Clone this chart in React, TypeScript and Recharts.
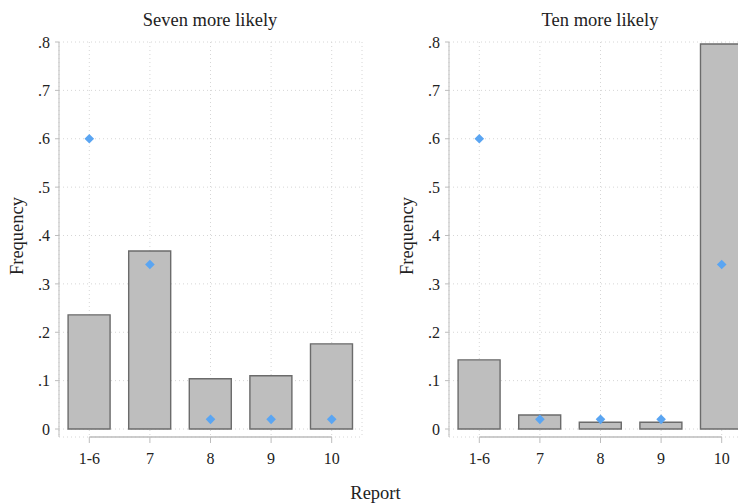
import React from 'react';
import { ComposedChart, Bar, Line, XAxis, YAxis, CartesianGrid, ReferenceLine } from 'recharts';

const categories = ['1-6', '7', '8', '9', '10'];
const sevenFrequency = [0.236, 0.368, 0.104, 0.11, 0.176];
const sevenPredicted = [0.6, 0.34, 0.02, 0.02, 0.02];
const tenFrequency = [0.143, 0.029, 0.014, 0.014, 0.796];
const tenPredicted = [0.6, 0.02, 0.02, 0.02, 0.34];
const yTicks = [0, 0.1, 0.2, 0.3, 0.4, 0.5, 0.6, 0.7, 0.8];
const xAxisLineY = -0.0165;

const FONT = 'Liberation Serif';
const TEXT = '#222222';
const AXIS = '#bdbdbd';

const fmtY = (v: number) => (v === 0 ? '0' : v.toFixed(1).replace(/^0/, ''));

const XTick = (props: any) => {
  const { x, y, payload } = props;
  return (
    <text x={x} y={y} dy="0.71em" textAnchor="middle" fontFamily={FONT} fontSize={16} fill={TEXT}>
      {payload.value}
    </text>
  );
};

const YTick = (props: any) => {
  const { x, y, payload } = props;
  return (
    <text x={x} y={y} dy="0.355em" textAnchor="end" fontFamily={FONT} fontSize={16} fill={TEXT}>
      {fmtY(payload.value)}
    </text>
  );
};

const Diamond = (props: any) => {
  const { cx, cy } = props;
  if (cx == null || cy == null) return null;
  const r = 4.8;
  return (
    <path
      key={`d-${cx}-${cy}`}
      d={`M${cx},${cy - r}L${cx + r},${cy}L${cx},${cy + r}L${cx - r},${cy}Z`}
      fill="#5aa5f2"
    />
  );
};

function Panel({ freq, pred }: { freq: number[]; pred: number[] }) {
  const data = categories.map((c, i) => ({ cat: c, freq: freq[i], pred: pred[i] }));
  return (
    <ComposedChart
      width={370}
      height={504}
      data={data}
      margin={{ top: 42, right: 8, left: 0, bottom: 0 }}
      barCategoryGap="15%"
    >
      <CartesianGrid stroke="#d6d6d6" strokeDasharray="1 3" />
      <XAxis
        dataKey="cat"
        interval={0}
        axisLine={false}
        tickLine={{ stroke: AXIS }}
        tickSize={6}
        tickMargin={10}
        height={67}
        tick={XTick}
      />
      <YAxis
        domain={[xAxisLineY, 0.8]}
        ticks={yTicks}
        width={59}
        axisLine={{ stroke: AXIS }}
        tickLine={{ stroke: AXIS }}
        tickSize={4}
        tickMargin={5}
        tick={YTick}
        allowDataOverflow
      />
      <ReferenceLine
        segment={[
          { x: categories[0], y: xAxisLineY },
          { x: categories[categories.length - 1], y: xAxisLineY },
        ]}
        stroke={AXIS}
        strokeWidth={1.5}
        ifOverflow="visible"
      />
      <Bar dataKey="freq" fill="#bebebe" stroke="#6b6b6b" strokeWidth={1.4} isAnimationActive={false} />
      <Line
        dataKey="pred"
        stroke="none"
        dot={Diamond}
        activeDot={false}
        isAnimationActive={false}
        legendType="none"
      />
    </ComposedChart>
  );
}

export default function App() {
  return (
    <div
      style={{
        position: 'absolute',
        left: 0,
        top: 0,
        width: 738,
        height: 504,
        overflow: 'hidden',
        background: '#ffffff',
      }}
    >
      <div style={{ position: 'absolute', left: 0, top: 0 }}>
        <Panel freq={sevenFrequency} pred={sevenPredicted} />
      </div>
      <div style={{ position: 'absolute', left: 390, top: 0 }}>
        <Panel freq={tenFrequency} pred={tenPredicted} />
      </div>
      <svg
        width={738}
        height={504}
        style={{ position: 'absolute', left: 0, top: 0, pointerEvents: 'none' }}
      >
        <g fontFamily={FONT} fill={TEXT} fontSize={18.5}>
          <text x={210} y={26} textAnchor="middle">Seven more likely</text>
          <text x={600} y={26} textAnchor="middle">Ten more likely</text>
          <text transform="translate(23,236) rotate(-90)" textAnchor="middle">Frequency</text>
          <text transform="translate(413,236) rotate(-90)" textAnchor="middle">Frequency</text>
          <text x={375.5} y={499} textAnchor="middle">Report</text>
        </g>
      </svg>
    </div>
  );
}
